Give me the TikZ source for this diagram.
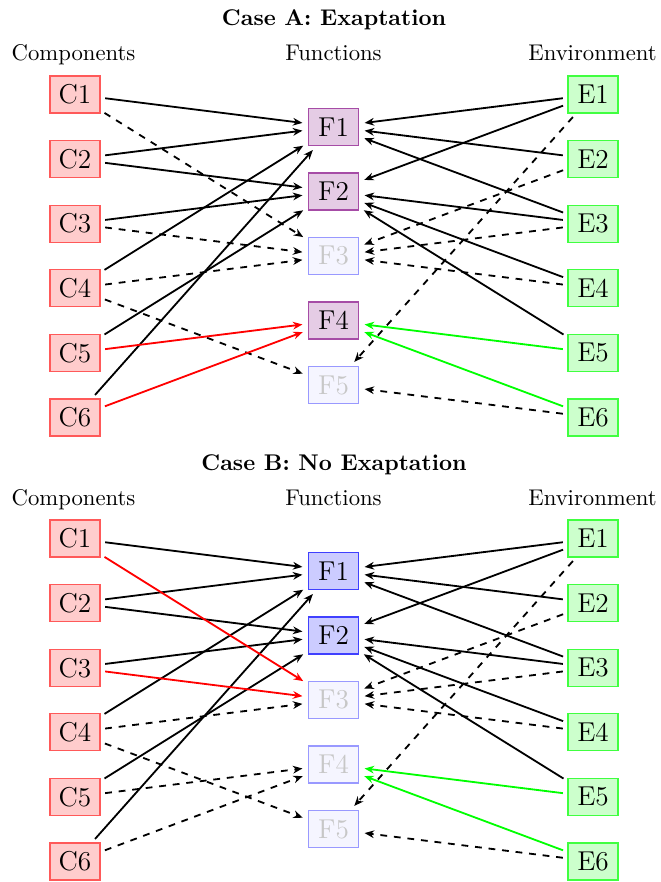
\documentclass[tikz,border=0pt]{standalone}
\usetikzlibrary{arrows.meta}
\begin{document}
\begin{tikzpicture}[x=0.4405pt,y=-0.4405pt,
  box/.style={draw, line width=0.6pt, minimum width=22pt, minimum height=16.3pt, inner sep=0pt, font=\large},
  comp/.style={box, draw=red!65, fill=red!20},
  env/.style={box, draw=green!75, fill=green!20},
  funA/.style={box, draw=violet!70, fill=violet!20},
  funB/.style={box, draw=blue!75, fill=blue!20},
  faded/.style={box, draw=blue!40, fill=blue!4, text=black!22},
  conn/.style={-{Stealth[length=4.2pt,width=3.4pt]}, thick, shorten >=2.4pt, shorten <=2pt},
  dconn/.style={conn, dashed},
  rconn/.style={conn, red},
  gconn/.style={conn, green},
  head/.style={anchor=base},
  title/.style={anchor=base, font=\bfseries}]
\useasboundingbox (0,0) rectangle (660,882);

% ---------- Case A ----------
\node[title] (tA) at (334,26) {Case A: Exaptation};
\node[head] (hCA) at (73.5,61) {Components};
\node[head] (hFA) at (333.5,61) {Functions};
\node[head] (hEA) at (592.5,61) {Environment};
\foreach \i in {1,...,6} {
  \node[comp] (aC\i) at (75,{94.5+64.6*(\i-1)}) {C\i};
  \node[env]  (aE\i) at (593,{94.5+64.6*(\i-1)}) {E\i};
}
\node[funA]  (aF1) at (333.5,126.8) {F1};
\node[funA]  (aF2) at (333.5,191.4) {F2};
\node[faded] (aF3) at (333.5,256.0) {F3};
\node[funA]  (aF4) at (333.5,320.6) {F4};
\node[faded] (aF5) at (333.5,385.2) {F5};

\foreach \s/\t in {aC1/aF1, aC2/aF1, aC2/aF2, aC3/aF2, aC4/aF1, aC5/aF2, aC6/aF1,
                   aE1/aF1, aE1/aF2, aE2/aF1, aE3/aF1, aE3/aF2, aE4/aF2, aE5/aF2}
  \draw[conn] (\s) -- (\t);
\foreach \s/\t in {aC1/aF3, aC3/aF3, aC4/aF3, aC4/aF5,
                   aE1/aF5, aE2/aF3, aE3/aF3, aE4/aF3, aE6/aF5}
  \draw[dconn] (\s) -- (\t);
\draw[rconn] (aC5) -- (aF4);
\draw[rconn] (aC6) -- (aF4);
\draw[gconn] (aE5) -- (aF4);
\draw[gconn] (aE6) -- (aF4);

% ---------- Case B ----------
\begin{scope}[yshift={-444*0.4405pt}]
\node[title] (tB) at (334,26) {Case B: No Exaptation};
\node[head] (hCB) at (73.5,61) {Components};
\node[head] (hFB) at (333.5,61) {Functions};
\node[head] (hEB) at (592.5,61) {Environment};
\foreach \i in {1,...,6} {
  \node[comp] (bC\i) at (75,{94.5+64.6*(\i-1)}) {C\i};
  \node[env]  (bE\i) at (593,{94.5+64.6*(\i-1)}) {E\i};
}
\node[funB]  (bF1) at (333.5,126.8) {F1};
\node[funB]  (bF2) at (333.5,191.4) {F2};
\node[faded] (bF3) at (333.5,256.0) {F3};
\node[faded] (bF4) at (333.5,320.6) {F4};
\node[faded] (bF5) at (333.5,385.2) {F5};
\end{scope}

\foreach \s/\t in {bC1/bF1, bC2/bF1, bC2/bF2, bC3/bF2, bC4/bF1, bC5/bF2, bC6/bF1,
                   bE1/bF1, bE1/bF2, bE2/bF1, bE3/bF1, bE3/bF2, bE4/bF2, bE5/bF2}
  \draw[conn] (\s) -- (\t);
\foreach \s/\t in {bC4/bF3, bC4/bF5, bC5/bF4, bC6/bF4,
                   bE1/bF5, bE2/bF3, bE3/bF3, bE4/bF3, bE6/bF5}
  \draw[dconn] (\s) -- (\t);
\draw[rconn] (bC1) -- (bF3);
\draw[rconn] (bC3) -- (bF3);
\draw[gconn] (bE5) -- (bF4);
\draw[gconn] (bE6) -- (bF4);
\end{tikzpicture}
\end{document}
